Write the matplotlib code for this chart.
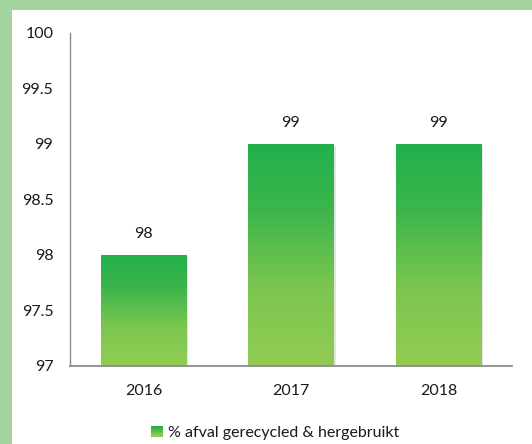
import matplotlib
matplotlib.use("Agg")
import matplotlib.pyplot as plt
import numpy as np
from matplotlib.colors import LinearSegmentedColormap
from matplotlib.patches import Rectangle
from matplotlib.legend_handler import HandlerBase
import matplotlib.patheffects as pe

years = ["2016", "2017", "2018"]
pct_recycled = [98, 99, 99]
y_ticks = [97, 97.5, 98, 98.5, 99, 99.5, 100]
legend_label = "% afval gerecycled & hergebruikt"

plt.rcParams['font.family'] = ['Lato', 'DejaVu Sans']

# gradient from light green (bottom) to dark green (top)
green_grad = LinearSegmentedColormap.from_list(
    "grad", [(0.0, "#92cc52"), (0.35, "#7cc650"), (0.7, "#3db54b"), (1.0, "#22b04c")])

fig = plt.figure(figsize=(5.32, 4.44), dpi=100, facecolor="white")
# green frame on top and left edge
fig.patches.append(Rectangle((0, 1 - 10 / 444), 1, 10 / 444, transform=fig.transFigure,
                             facecolor="#a3d39e", edgecolor="none", zorder=0))
fig.patches.append(Rectangle((0, 0), 12 / 532, 1, transform=fig.transFigure,
                             facecolor="#a3d39e", edgecolor="none", zorder=0))

ax = fig.add_axes([70 / 532, 1 - 366 / 444, 442 / 532, 333 / 444])
ax.set_facecolor("none")

x = np.arange(len(years))
bars = ax.bar(x, pct_recycled, width=0.58, color="none", edgecolor="none")

ax.set_xlim(-0.5, len(years) - 0.5)
ax.set_ylim(97, 100)

grad = np.linspace(0, 1, 256).reshape(-1, 1)
for b in bars:
    x0, w, h = b.get_x(), b.get_width(), b.get_height()
    # soft shadow under each bar
    ax.add_patch(Rectangle((x0, 97), w, h - 97, facecolor="white", edgecolor="none",
                           path_effects=[pe.SimplePatchShadow(offset=(1.5, -1.5), alpha=0.15)],
                           zorder=1))
    ax.imshow(grad, extent=(x0, x0 + w, 97, h), origin="lower", cmap=green_grad,
              aspect="auto", zorder=2)
    ax.annotate(f"{h:g}", (x0 + w / 2, h), xytext=(0, 10), textcoords="offset points",
                ha="center", va="bottom", fontsize=11.5, color="#1a1a1a")

ax.set_xticks(x)
ax.set_xticklabels(years)
ax.set_yticks(y_ticks)
ax.set_yticklabels([f"{t:g}" for t in y_ticks])
ax.tick_params(axis="both", length=0, labelsize=11.5, labelcolor="#1a1a1a")
ax.tick_params(axis="y", pad=12)
ax.tick_params(axis="x", pad=13)

for s in ["top", "right"]:
    ax.spines[s].set_visible(False)
ax.spines["left"].set_color("#8c8c8c")
ax.spines["bottom"].set_color("#8c8c8c")
ax.spines["left"].set_linewidth(1.0)
ax.spines["bottom"].set_linewidth(1.3)


class GradientHandler(HandlerBase):
    def create_artists(self, legend, orig_handle, xdescent, ydescent, width, height, fontsize, trans):
        n = 10
        arts = []
        for i in range(n):
            r = Rectangle((-xdescent, -ydescent + height * i / n), width, height / n + 0.2,
                          facecolor=green_grad(i / (n - 1)), edgecolor="none", transform=trans)
            arts.append(r)
        return arts


handle = Rectangle((0, 0), 1, 1)
fig.legend([handle], [legend_label], handler_map={Rectangle: GradientHandler()},
           loc="center", bbox_to_anchor=(275 / 532, 1 - 433 / 444), frameon=False,
           fontsize=11.5, handlelength=0.75, handleheight=0.75, handletextpad=0.3,
           labelcolor="#1a1a1a")

fig.savefig("out.png", dpi=100, facecolor="white")
